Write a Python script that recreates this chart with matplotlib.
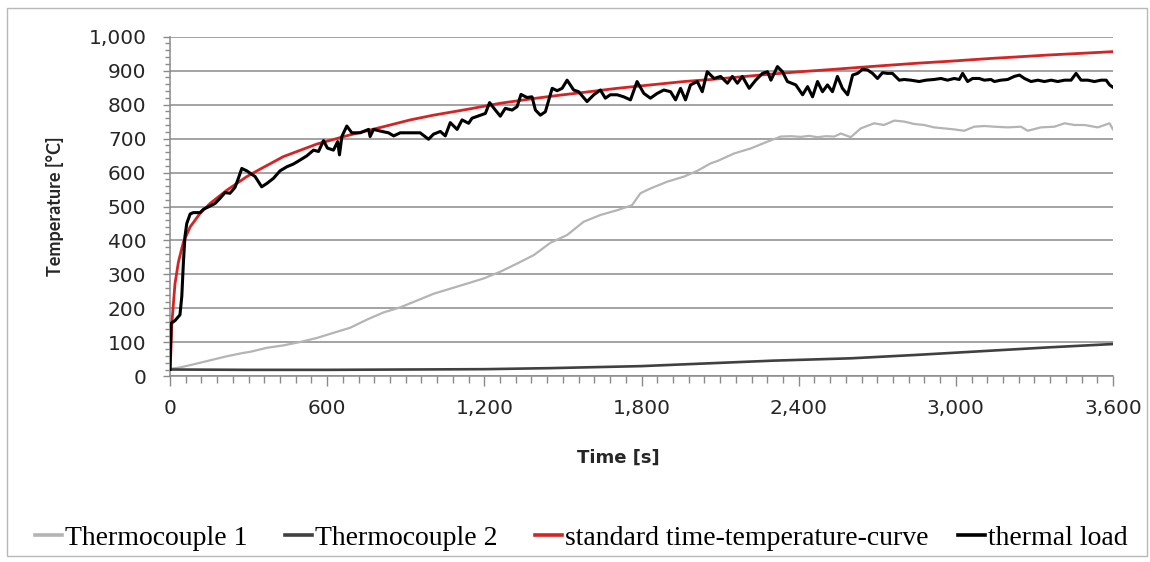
import matplotlib
matplotlib.use("Agg")
import matplotlib.pyplot as plt
from matplotlib.ticker import MultipleLocator, FuncFormatter
from matplotlib.patches import Rectangle

# ---------------- data ----------------
load_t = [0, 4, 19, 38, 45, 51, 57, 64, 77, 89, 115, 128, 147, 172, 191, 210, 229, 248, 261, 274,
          293, 325, 350, 370, 395, 420, 446, 471, 497, 522, 548, 567, 586, 601, 624, 640, 647, 656,
          675, 694, 726, 758, 764, 777, 809, 834, 854, 879, 917, 955, 987, 1006, 1032, 1051, 1070,
          1096, 1115, 1140, 1153, 1185, 1204, 1220, 1242, 1261, 1280, 1306, 1325, 1340, 1363, 1382,
          1395, 1414, 1433, 1459, 1478, 1497, 1516, 1541, 1560, 1592, 1618, 1643, 1662, 1681, 1707,
          1732, 1758, 1783, 1809, 1834, 1860, 1885, 1911, 1930, 1949, 1968, 1987, 2013, 2032, 2051,
          2064, 2077, 2102, 2128, 2147, 2166, 2185, 2211, 2236, 2262, 2281, 2294, 2319, 2338, 2357,
          2389, 2415, 2434, 2453, 2472, 2491, 2510, 2529, 2548, 2567, 2587, 2606, 2625, 2644, 2663,
          2682, 2701, 2720, 2739, 2758, 2784, 2803, 2828, 2860, 2886, 2917, 2943, 2968, 2994, 3013,
          3026, 3045, 3064, 3089, 3109, 3134, 3147, 3172, 3198, 3223, 3243, 3262, 3287, 3313, 3338,
          3364, 3389, 3415, 3440, 3459, 3478, 3504, 3529, 3555, 3574, 3587, 3600]
load_T = [20, 156, 164, 181, 235, 333, 411, 450, 478, 482, 482, 492, 499, 509, 524, 541, 539, 556, 583, 612,
          605, 588, 558, 568, 583, 605, 617, 625, 637, 649, 666, 662, 694, 672, 666, 691, 652, 706,
          737, 717, 717, 727, 706, 727, 721, 717, 708, 717, 717, 717, 698, 713, 721, 708, 747,
          727, 755, 745, 760, 769, 774, 806, 784, 766, 789, 784, 794, 830, 821, 823,
          784, 769, 779, 848, 841, 848, 872, 843, 838, 809, 829, 843, 819, 829, 829,
          823, 814, 868, 833, 819, 833, 843, 838, 814, 848, 814, 858, 868, 838, 897,
          887, 877, 883, 863, 883, 863, 883, 848, 872, 892, 897, 872, 912, 897, 868,
          858, 829, 853, 823, 868, 838, 858, 838, 883, 848, 829, 887, 892, 904, 902,
          892, 877, 894, 892, 892, 872, 874, 872, 868, 872, 874, 877, 872, 877, 874,
          892, 868, 877, 877, 872, 874, 868, 872, 874, 883, 887, 877, 868, 872, 868,
          872, 868, 872, 872, 892, 872, 872, 868, 872, 872, 858, 851]

tc1_t = [0, 38, 89, 153, 217, 280, 306, 370, 433, 497, 561, 624, 688, 752, 815, 879, 943, 1006, 1070,
         1134, 1197, 1261, 1325, 1389, 1452, 1516, 1579, 1643, 1707, 1764, 1796, 1834, 1898, 1962,
         2013, 2064, 2090, 2153, 2217, 2281, 2332, 2370, 2408, 2440, 2472, 2504, 2536, 2561, 2599,
         2637, 2688, 2726, 2765, 2803, 2841, 2879, 2917, 2956, 2994, 3032, 3070, 3109, 3147, 3198,
         3249, 3274, 3325, 3376, 3415, 3453, 3491, 3542, 3587, 3600]
tc1_T = [22, 26, 35, 47, 59, 69, 72, 84, 91, 101, 113, 128, 143, 167, 188, 203, 223, 243, 258,
         273, 288, 308, 332, 357, 393, 416, 455, 475, 489, 504, 539, 553, 573, 588,
         605, 627, 634, 656, 671, 691, 706, 707, 705, 708, 704, 707, 706, 715, 704,
         730, 745, 740, 753, 750, 743, 740, 733, 730, 727, 723, 735, 737, 735, 733,
         735, 723, 733, 735, 745, 740, 740, 733, 745, 727]

tc2_t = [0, 300, 600, 900, 1200, 1450, 1800, 2050, 2300, 2600, 2850, 3100, 3350, 3600]
tc2_T = [20, 19, 19, 20, 21, 24, 30, 38, 46, 53, 63, 74, 85, 95]

iso_t = [0, 3, 7, 19, 32, 51, 77, 115, 153, 217, 293, 344, 433, 561, 688, 815, 917, 1006, 1134,
         1261, 1389, 1490, 1579, 1707, 1834, 1962, 2064, 2153, 2281, 2408, 2536, 2638, 2726, 2854,
         2981, 3134, 3223, 3351, 3478, 3600]
iso_T = [20, 65, 155, 272, 336, 395, 440, 480, 509, 548, 588, 610, 647, 684, 711, 735, 755, 769, 786,
         804, 818, 828, 836, 848, 858, 868, 874, 880, 889, 897, 904, 910, 915, 922,
         928, 936, 940, 946, 951, 956]

labels = ["Thermocouple 1", "Thermocouple 2", "standard time-temperature-curve", "thermal load"]
colors = ["#b4b4b4", "#404040", "#d42424", "#000000"]

# ---------------- figure ----------------
W, H = 1150, 562
fig = plt.figure(figsize=(W / 100, H / 100), dpi=100)
fig.patches.append(Rectangle((7 / W, 1 - 556 / H), 1140 / W, 548 / H, transform=fig.transFigure,
                             fill=False, edgecolor="#b8b8b8", linewidth=1.0))

ax = fig.add_axes([170 / W, 1 - 376.3 / H, 943 / W, (376.3 - 36.7) / H])

ax.plot(tc1_t, tc1_T, color=colors[0], lw=1.6, label=labels[0], zorder=3)
ax.plot(tc2_t, tc2_T, color=colors[1], lw=1.9, label=labels[1], zorder=3)
ax.plot(iso_t, iso_T, color=colors[2], lw=2.0, label=labels[2], zorder=4)
ax.plot(load_t, load_T, color=colors[3], lw=2.2, label=labels[3], zorder=5)

ax.set_xlim(0, 3600)
ax.set_ylim(0, 1000)
ax.xaxis.set_major_locator(MultipleLocator(600))
ax.xaxis.set_minor_locator(MultipleLocator(60))
ax.yaxis.set_major_locator(MultipleLocator(100))
ax.yaxis.set_minor_locator(MultipleLocator(20))
fmt = FuncFormatter(lambda v, p: f"{int(round(v)):,}")
ax.xaxis.set_major_formatter(fmt)
ax.yaxis.set_major_formatter(fmt)

gc = "#8a8a8a"
ax.grid(axis="y", which="major", color=gc, lw=1.1)
ax.set_axisbelow(True)
for s in ["top", "right"]:
    ax.spines[s].set_visible(False)
for s in ["left", "bottom"]:
    ax.spines[s].set_color(gc)
    ax.spines[s].set_linewidth(1.1)

ax.tick_params(axis="both", which="both", direction="out", color=gc, width=1.0,
               labelcolor="#262626")
ax.tick_params(axis="y", which="major", length=5, pad=12, labelsize=14.5)
ax.tick_params(axis="y", which="minor", length=3.5)
ax.tick_params(axis="x", which="major", length=7, pad=9, labelsize=14.5)
ax.tick_params(axis="x", which="minor", length=5)

ax.set_xlabel("Time [s]", fontsize=13, fontweight="bold", color="#262626")
ax.set_ylabel("Temperature [°C]", fontsize=13, fontweight="bold", color="#262626",
              family="Lato")
ax.xaxis.set_label_coords(0.475, -0.213)
ax.yaxis.set_label_coords(-0.112, 0.5)

# legend: one entry per item, placed where the reference has them
handles, labs = ax.get_legend_handles_labels()
leg_x = [35, 285, 535, 958]
for h, lab, x in zip(handles, labs, leg_x):
    lg = fig.legend([h], [lab], loc="center left", bbox_to_anchor=(x / W, 1 - 538 / H),
                    frameon=False, prop={"family": "Liberation Serif", "size": 20},
                    handlelength=0.97, handletextpad=0.11, borderpad=0, borderaxespad=0)
    for line in lg.get_lines():
        line.set_linewidth(2.6)

fig.savefig("out.png", dpi=100)
